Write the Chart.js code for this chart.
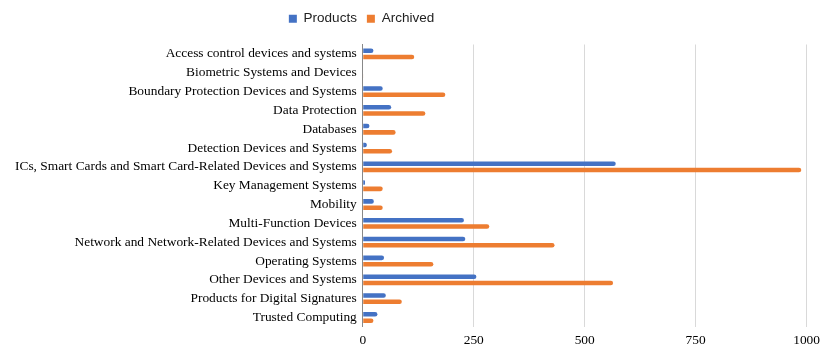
<!DOCTYPE html>
<html>
<head>
<meta charset="utf-8">
<script src="https://cdn.jsdelivr.net/npm/chart.js@4/dist/chart.umd.min.js"></script>
<style>
  html, body { margin: 0; padding: 0; background: #fff; }
  #wrap { width: 826px; height: 351px; }
</style>
</head>
<body>
<div id="wrap"><canvas id="certChart"></canvas></div>
<script>
// Categories and values
const categories = [
    'Access control devices and systems',
    'Biometric Systems and Devices',
    'Boundary Protection Devices and Systems',
    'Data Protection',
    'Databases',
    'Detection Devices and Systems',
    'ICs, Smart Cards and Smart Card-Related Devices and Systems',
    'Key Management Systems',
    'Mobility',
    'Multi-Function Devices',
    'Network and Network-Related Devices and Systems',
    'Operating Systems',
    'Other Devices and Systems',
    'Products for Digital Signatures',
    'Trusted Computing'
];
const products = [24, 0, 45, 64, 15, 9, 570, 5, 25, 228, 231, 48, 256, 52, 33];
const archived = [116, 1, 186, 141, 74, 66, 988, 45, 45, 285, 432, 159, 564, 88, 24];
const xTicks = [0, 250, 500, 750, 1000];

// Add a little space under the legend and move it left a bit
const legendTweak = {
    id: 'legendTweak',
    beforeInit(chart) {
        const fit = chart.legend.fit;
        chart.legend.fit = function() {
            fit.bind(chart.legend)();
            this.height += 9;
        };
    },
    afterLayout(chart) {
        chart.legend.left -= 48;
        chart.legend.right -= 48;
    }
};

document.addEventListener('DOMContentLoaded', function() {
    const ctx = document.getElementById('certChart');
    new Chart(ctx, {
        type: 'bar',
        data: {
            labels: categories,
            datasets: [{
                label: 'Products',
                data: products,
                backgroundColor: '#4472C4',
                borderRadius: 3,
                borderSkipped: 'start'
            }, {
                label: 'Archived',
                data: archived,
                backgroundColor: '#ED7D31',
                borderRadius: 3,
                borderSkipped: 'start'
            }]
        },
        options: {
            indexAxis: 'y',
            responsive: true,
            maintainAspectRatio: false,
            animation: false,
            categoryPercentage: 0.67,
            barPercentage: 0.72,
            layout: { padding: { top: 2, right: 16, bottom: -4, left: 9 } },
            plugins: {
                legend: {
                    position: 'top',
                    labels: {
                        boxWidth: 8,
                        boxHeight: 8,
                        padding: 10,
                        color: '#222',
                        font: { family: 'Liberation Sans', size: 13.5 }
                    }
                },
                tooltip: { enabled: false }
            },
            scales: {
                x: {
                    min: 0,
                    max: 1000,
                    afterBuildTicks(axis) {
                        axis.ticks = xTicks.map(v => ({ value: v }));
                    },
                    grid: { color: '#d9d9d9', drawTicks: false },
                    border: { display: false },
                    ticks: {
                        padding: 6,
                        color: '#000',
                        callback: v => String(v),
                        font: { family: 'Liberation Serif', size: 13.4 }
                    }
                },
                y: {
                    grid: { display: false, drawTicks: false },
                    border: { display: true, color: '#888' },
                    ticks: {
                        padding: 6,
                        color: '#000',
                        autoSkip: false,
                        font: { family: 'Liberation Serif', size: 13.4 }
                    }
                }
            }
        },
        plugins: [legendTweak]
    });
});
</script>
</body>
</html>
